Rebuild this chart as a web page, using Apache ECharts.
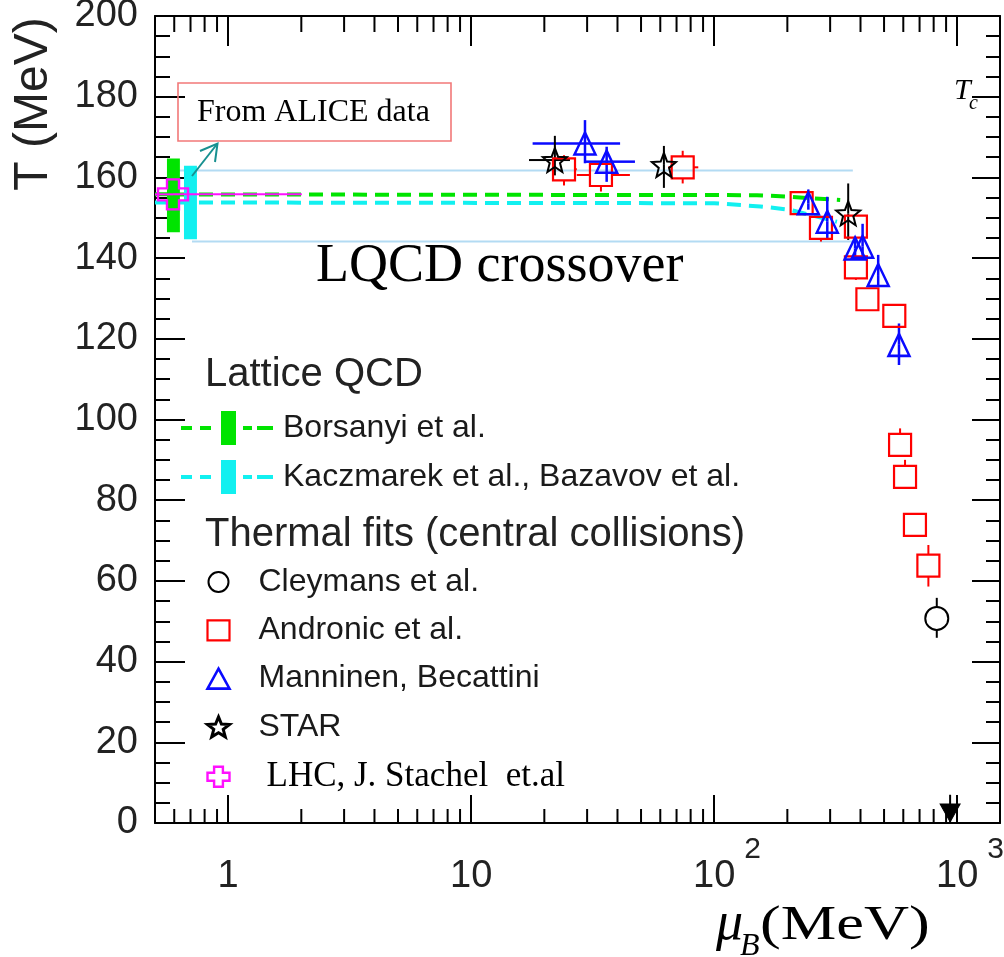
<!DOCTYPE html>
<html>
<head>
<meta charset="utf-8">
<script src="https://cdn.jsdelivr.net/npm/echarts@6/dist/echarts.min.js"></script>
<style>html,body{margin:0;padding:0;background:#fff}#c{width:1004px;height:957px}</style>
</head>
<body>
<div id="c"></div>
<script>
// ---------------- data ----------------
const xMin = 0.5, xMax = 1500;
const xTickValues = [1, 10, 100, 1000];
const xTickBase = ['1', '10', '10', '10'];
const xTickExp = ['', '', '2', '3'];
const xMinorTickValues = [0.6, 0.7, 0.8, 0.9, 2, 3, 4, 5, 6, 7, 8, 9, 20, 30, 40, 50, 60, 70, 80, 90, 200, 300, 400, 500, 600, 700, 800, 900];
const yMin = 0, yMax = 200, yStep = 20;

// Lattice QCD crossover lines
const borsanyiMu = [0.5, 150, 204, 330];
const borsanyiT = [155.8, 155.6, 155.2, 154.4];
const kaczmarekMu = [0.5, 100, 155, 204, 320];
const kaczmarekT = [153.8, 153.6, 152.8, 152.0, 149.0];
// Lattice QCD bands at mu ~ 0  [muLeft, muRight, tLow, tHigh]
const borsanyiBar = [0.560, 0.633, 146.4, 164.7];
const kaczmarekBar = [0.658, 0.744, 144.7, 162.9];
// LQCD crossover band edges
const bandUpperMu = [0.622, 372];
const bandUpperT = [161.7, 161.7];
const bandLowerMu = [0.71, 372];
const bandLowerT = [144.1, 144.1];

// Thermal fits
const cleymansMu = [824];
const cleymansT = [50.7];
const cleymansTLo = [45.9];
const cleymansTHi = [55.8];

const andronicMu = [24.1, 34.2, 74.2, 229, 275, 383, 383, 427, 551, 582, 610, 670, 761];
const andronicT = [162.0, 160.6, 162.5, 153.6, 147.5, 147.8, 137.7, 129.8, 125.7, 93.7, 85.8, 73.9, 63.8];
const andronicTLo = [158.0, 156.5, 158.5, null, 144.1, null, 134.6, null, null, null, null, null, 58.6];
const andronicTHi = [165.5, 163.5, 166.6, null, null, null, null, null, null, 97.8, 90.0, null, 68.9];
const andronicMuLo = [22.0, 27.2, 64.7, null, null, null, null, null, null, null, null, null, null];
const andronicMuHi = [27.2, 45.0, 86.0, null, null, null, null, null, null, null, null, null, null];

const manninenMu = [29.4, 36.1, 244, 292, 380, 408, 473, 576];
const manninenT = [168.4, 163.9, 153.6, 149.0, 142.4, 142.8, 135.8, 118.5];
const manninenTLo = [163.5, 158.9, 152.0, 144.5, 140.0, 140.0, 133.0, 113.5];
const manninenTHi = [174.2, 167.6, 157.0, 155.2, 145.0, 148.5, 140.8, 123.8];
const manninenMuLo = [17.9, 29.4, null, null, null, null, null, null];
const manninenMuHi = [41.0, 47.2, null, null, null, null, null, null];

const starMu = [22.1, 62.1, 356];
const starT = [164.3, 163.1, 151.1];
const starTLo = [160.5, 157.4, 144.5];
const starTHi = [170.3, 167.8, 158.5];
const starMuLo = [17.3, null, null];
const starMuHi = [25.5, null, null];

const lhcMu = [0.593];
const lhcT = [155.8];
const lhcMuLo = [0.5];
const lhcMuHi = [2.01];

const extraMu = [935];
const extraT = [2.5];
const extraTLo = [0];
const extraTHi = [7];

// ---------------- helpers ----------------
function rows(mu, t, muLo, muHi, tLo, tHi) {
  return mu.map((m, i) => [m, t[i],
    muLo ? muLo[i] : null, muHi ? muHi[i] : null,
    tLo ? tLo[i] : null, tHi ? tHi[i] : null]);
}
function pairs(a, b) { return a.map((v, i) => [v, b[i]]); }

function starPath() {
  let p = '';
  for (let i = 0; i < 10; i++) {
    const r = i % 2 === 0 ? 10 : 4.3;
    const a = -Math.PI / 2 + i * Math.PI / 5;
    p += (i === 0 ? 'M' : 'L') + (10 + r * Math.cos(a)).toFixed(2) + ',' + (10 + r * Math.sin(a)).toFixed(2);
  }
  return 'path://' + p + 'Z';
}
const STAR = starPath();
const CROSS = 'path://M6,0H14V6H20V14H14V20H6V14H0V6H6Z';
const LQCD_ICON = 'path://M0,15H11V19H0Z M19,15H30V19H19Z M40,0H55V34H40Z M62,15H71V19H62Z M76,15H92V19H76Z';

const GREEN = '#00e400', CYAN = '#12f0f0', RED = '#ff0000', BLUE = '#0a0aff', BLACK = '#000000', MAGENTA = '#ff10ff';
const TRANSP = 'rgba(0,0,0,0)';

function errSeries(data, color, width, gap) {
  return {
    type: 'custom', silent: true, z: 4, data: data,
    encode: { x: 0, y: 1 },
    renderItem: function (params, api) {
      const mu = api.value(0), t = api.value(1);
      const p = api.coord([mu, t]);
      const ch = [];
      const st = { stroke: color, lineWidth: width };
      const muLo = api.value(2), muHi = api.value(3), tLo = api.value(4), tHi = api.value(5);
      if (isFinite(tHi) && tHi !== null) {
        const q = api.coord([mu, tHi]);
        if (p[1] - q[1] > gap) ch.push({ type: 'line', shape: { x1: p[0], y1: p[1] - gap, x2: q[0], y2: q[1] }, style: st });
      }
      if (isFinite(tLo) && tLo !== null) {
        const q = api.coord([mu, tLo]);
        if (q[1] - p[1] > gap) ch.push({ type: 'line', shape: { x1: p[0], y1: p[1] + gap, x2: q[0], y2: q[1] }, style: st });
      }
      if (isFinite(muLo) && muLo !== null) {
        const q = api.coord([muLo, t]);
        if (p[0] - q[0] > gap) ch.push({ type: 'line', shape: { x1: p[0] - gap, y1: p[1], x2: q[0], y2: q[1] }, style: st });
      }
      if (isFinite(muHi) && muHi !== null) {
        const q = api.coord([muHi, t]);
        if (q[0] - p[0] > gap) ch.push({ type: 'line', shape: { x1: p[0] + gap, y1: p[1], x2: q[0], y2: q[1] }, style: st });
      }
      return { type: 'group', children: ch };
    }
  };
}

function barSeries(bar, color) {
  return {
    type: 'custom', silent: true, z: 3, data: [bar],
    encode: { x: [0, 1], y: [2, 3] },
    renderItem: function (params, api) {
      const a = api.coord([api.value(0), api.value(3)]);
      const b = api.coord([api.value(1), api.value(2)]);
      return { type: 'rect', shape: { x: a[0], y: a[1], width: b[0] - a[0], height: b[1] - a[1] }, style: { fill: color } };
    }
  };
}

function scatterSeries(name, data, symbol, size, color, fill, bw, extra) {
  return Object.assign({
    type: 'scatter', name: name, data: data, symbol: symbol, symbolSize: size, z: 6, silent: true,
    itemStyle: { color: fill, borderColor: color, borderWidth: bw, opacity: 1 }
  }, extra || {});
}

const SANS = '"Liberation Sans", Arial, sans-serif';
const SERIF = '"Liberation Serif", "Times New Roman", serif';

const chart = echarts.init(document.getElementById('c'), null, { renderer: 'canvas' });

const commonX = {
  type: 'log', logBase: 10, min: xMin, max: xMax, splitLine: { show: false },
  axisLine: { show: true, onZero: false, lineStyle: { color: '#000', width: 2 } },
  minorTick: { show: false }, minorSplitLine: { show: false }, axisLabel: { show: false }
};
const commonY = {
  type: 'value', min: yMin, max: yMax, interval: yStep, splitLine: { show: false },
  axisLine: { show: true, onZero: false, lineStyle: { color: '#000', width: 2 } },
  minorSplitLine: { show: false }
};

const option = {
  animation: false,
  backgroundColor: '#ffffff',
  grid: { left: 155, right: 4, top: 16, bottom: 134, containLabel: false, outerBoundsMode: 'none' },
  xAxis: [
    Object.assign({}, commonX, {
      position: 'bottom',
      axisTick: { show: true, inside: true, length: 28, lineStyle: { color: '#000', width: 2 } }
    }),
    Object.assign({}, commonX, {
      position: 'top',
      axisTick: { show: true, inside: true, length: 30, lineStyle: { color: '#000', width: 2 } }
    })
  ],
  yAxis: [
    Object.assign({}, commonY, {
      position: 'left',
      axisTick: { show: true, inside: true, length: 30, lineStyle: { color: '#000', width: 2 } },
      minorTick: { show: true, splitNumber: 4, length: 15, lineStyle: { color: '#000', width: 2 } },
      axisLabel: { show: true, margin: 17, color: '#222', fontFamily: SANS, fontSize: 38 }
    }),
    Object.assign({}, commonY, {
      position: 'right',
      axisTick: { show: true, inside: true, length: 28, lineStyle: { color: '#000', width: 2 } },
      minorTick: { show: true, splitNumber: 4, length: 14, lineStyle: { color: '#000', width: 2 } },
      axisLabel: { show: false }
    })
  ],
  legend: [
    {
      left: 181, top: 411, padding: 0, orient: 'vertical', itemWidth: 92, itemHeight: 34, itemGap: 15,
      symbolKeepAspect: false, selectedMode: false,
      textStyle: { fontFamily: SANS, fontSize: 32, color: '#1a1a1a', lineHeight: 34, padding: [0, 0, 0, 5] },
      data: [
        { name: 'Borsanyi et al.', icon: LQCD_ICON, itemStyle: { color: GREEN, borderWidth: 0 } },
        { name: 'Kaczmarek et al., Bazavov et al.', icon: LQCD_ICON, itemStyle: { color: CYAN, borderWidth: 0 } }
      ]
    },
    {
      left: 206, top: 566, padding: 0, orient: 'vertical', itemWidth: 22, itemHeight: 20, itemGap: 16.3,
      symbolKeepAspect: false, selectedMode: false,
      textStyle: { fontFamily: SANS, fontSize: 32, color: '#1a1a1a', lineHeight: 20, padding: [0, 0, 0, 24] },
      data: [
        { name: 'Cleymans et al.', icon: 'circle', itemStyle: { color: TRANSP, borderColor: BLACK, borderWidth: 2 } },
        { name: 'Andronic et al.', icon: 'rect', itemStyle: { color: TRANSP, borderColor: RED, borderWidth: 2.2 } },
        { name: 'Manninen, Becattini', icon: 'triangle', itemStyle: { color: TRANSP, borderColor: BLUE, borderWidth: 2.6 } },
        { name: 'STAR', icon: STAR, itemStyle: { color: TRANSP, borderColor: BLACK, borderWidth: 3 } },
        { name: 'LHC, J. Stachel  et.al', icon: CROSS, itemStyle: { color: TRANSP, borderColor: MAGENTA, borderWidth: 2.4 },
          textStyle: { fontFamily: SERIF, fontSize: 35, color: '#000', lineHeight: 20, padding: [0, 0, 0, 32] } }
      ]
    }
  ],
  series: [
    // x minor ticks (bottom & top)
    {
      type: 'custom', silent: true, z: 2, xAxisIndex: 0, yAxisIndex: 0,
      data: xMinorTickValues.map(v => [v, yMin]),
      encode: { x: 0, y: 1 },
      renderItem: function (params, api) {
        const v = api.value(0);
        const b = api.coord([v, yMin]);
        const t = api.coord([v, yMax]);
        const st = { stroke: '#000', lineWidth: 2 };
        return { type: 'group', children: [
          { type: 'line', shape: { x1: b[0], y1: b[1], x2: b[0], y2: b[1] - 14 }, style: st },
          { type: 'line', shape: { x1: t[0], y1: t[1], x2: t[0], y2: t[1] + 16 }, style: st }
        ] };
      }
    },
    // x tick labels (powers of ten, with raised exponents)
    {
      type: 'custom', silent: true, clip: false, z: 10, xAxisIndex: 0, yAxisIndex: 0,
      data: xTickValues.map((v, i) => [v, yMin, i]),
      encode: { x: 0, y: 1 },
      renderItem: function (params, api) {
        const i = api.value(2);
        const p = api.coord([api.value(0), yMin]);
        const ch = [{ type: 'text', x: p[0], y: p[1] + 54,
          style: { text: xTickBase[i], fontFamily: SANS, fontSize: 38, fill: '#222', align: 'center', verticalAlign: 'middle' } }];
        if (xTickExp[i]) ch.push({ type: 'text', x: p[0] + 30, y: p[1] + 26.5,
          style: { text: xTickExp[i], fontFamily: SANS, fontSize: 30, fill: '#222', align: 'left', verticalAlign: 'middle' } });
        return { type: 'group', children: ch };
      }
    },
    // crossover band edges
    { type: 'line', name: 'band-upper', data: pairs(bandUpperMu, bandUpperT), showSymbol: false, silent: true, z: 1,
      lineStyle: { color: '#b3dbf3', width: 2 }, itemStyle: { color: '#b3dbf3' } },
    { type: 'line', name: 'band-lower', data: pairs(bandLowerMu, bandLowerT), showSymbol: false, silent: true, z: 1,
      lineStyle: { color: '#b3dbf3', width: 2 }, itemStyle: { color: '#b3dbf3' } },
    // LQCD lines
    { type: 'line', name: 'Borsanyi et al.', data: pairs(borsanyiMu, borsanyiT), showSymbol: false, silent: true, z: 2,
      color: GREEN, lineStyle: { color: GREEN, width: 4, type: [14, 8] }, itemStyle: { color: GREEN } },
    { type: 'line', name: 'Kaczmarek et al., Bazavov et al.', data: pairs(kaczmarekMu, kaczmarekT), showSymbol: false, silent: true, z: 2,
      color: CYAN, lineStyle: { color: CYAN, width: 4, type: [14, 8] }, itemStyle: { color: CYAN } },
    barSeries(borsanyiBar, GREEN),
    barSeries(kaczmarekBar, CYAN),
    // error bars
    errSeries(rows(cleymansMu, cleymansT, null, null, cleymansTLo, cleymansTHi), BLACK, 2, 11),
    errSeries(rows(andronicMu, andronicT, andronicMuLo, andronicMuHi, andronicTLo, andronicTHi), RED, 2, 11),
    errSeries(rows(manninenMu, manninenT, manninenMuLo, manninenMuHi, manninenTLo, manninenTHi), BLUE, 2.5, 0),
    errSeries(rows(starMu, starT, starMuLo, starMuHi, starTLo, starTHi), BLACK, 2, 0),
    errSeries(rows(lhcMu, lhcT, lhcMuLo, lhcMuHi, null, null), MAGENTA, 2, 0),
    errSeries(rows(extraMu, extraT, null, null, extraTLo, extraTHi), BLACK, 2, 0),
    // markers
    scatterSeries('Cleymans et al.', pairs(cleymansMu, cleymansT), 'circle', 23, BLACK, TRANSP, 2),
    scatterSeries('Andronic et al.', pairs(andronicMu, andronicT), 'rect', 22, RED, TRANSP, 2.2),
    scatterSeries('Manninen, Becattini', pairs(manninenMu, manninenT), 'triangle', [21, 22], BLUE, TRANSP, 2.5),
    scatterSeries('STAR', pairs(starMu, starT), STAR, 24, BLACK, TRANSP, 2),
    scatterSeries('LHC, J. Stachel  et.al', pairs(lhcMu, lhcT), CROSS, 30, MAGENTA, TRANSP, 2.4),
    scatterSeries('extra', pairs(extraMu, extraT), 'triangle', [20, 18], BLACK, BLACK, 1, { symbolRotate: 180 })
  ],
  graphic: [
    { type: 'rect', shape: { x: 178, y: 83, width: 273, height: 58 }, style: { fill: 'none', stroke: '#f27878', lineWidth: 1.6 }, z: 10 },
    { type: 'text', x: 197, y: 113, z: 10, style: { text: 'From ALICE data', fontFamily: SERIF, fontSize: 32, fill: '#000', align: 'left', verticalAlign: 'middle' } },
    { type: 'polyline', z: 10, shape: { points: [[192, 176], [217.5, 143.5]] }, style: { stroke: '#179090', lineWidth: 2, fill: 'none' } },
    { type: 'polyline', z: 10, shape: { points: [[200, 151], [217.5, 143.5], [215, 162]] }, style: { stroke: '#179090', lineWidth: 2, fill: 'none' } },
    { type: 'text', x: 316, y: 267, z: 10, style: { text: 'LQCD crossover', fontFamily: SERIF, fontSize: 54, fill: '#000', align: 'left', verticalAlign: 'middle' } },
    { type: 'text', x: 954, y: 91.5, z: 10, style: { text: 'T', fontFamily: SERIF, fontStyle: 'italic', fontSize: 30, fill: '#000', align: 'left', verticalAlign: 'middle' } },
    { type: 'text', x: 969, y: 103.5, z: 10, style: { text: 'c', fontFamily: SERIF, fontStyle: 'italic', fontSize: 20, fill: '#000', align: 'left', verticalAlign: 'middle' } },
    { type: 'text', x: 34, y: 104, rotation: Math.PI / 2, z: 10, style: { text: 'T (MeV)', fontFamily: SANS, fontSize: 48, fill: '#222', align: 'center', verticalAlign: 'middle' } },
    { type: 'text', x: 716, y: 925, z: 10, style: { text: 'μ', fontFamily: SERIF, fontStyle: 'italic', fontSize: 54, fill: '#000', align: 'left', verticalAlign: 'middle' } },
    { type: 'text', x: 740, y: 947, z: 10, style: { text: 'B', fontFamily: SERIF, fontStyle: 'italic', fontSize: 32, fill: '#000', align: 'left', verticalAlign: 'middle' } },
    { type: 'text', x: 760, y: 926.5, scaleX: 1.3, z: 10, style: { text: '(MeV)', fontFamily: SERIF, fontSize: 48, fill: '#000', align: 'left', verticalAlign: 'middle' } },
    { type: 'text', x: 205, y: 374.5, z: 10, style: { text: 'Lattice QCD', fontFamily: SANS, fontSize: 40, fill: '#222', align: 'left', verticalAlign: 'middle' } },
    { type: 'text', x: 205, y: 535, z: 10, style: { text: 'Thermal fits (central collisions)', fontFamily: SANS, fontSize: 40, fill: '#222', align: 'left', verticalAlign: 'middle' } }
  ]
};
chart.setOption(option);
</script>
</body>
</html>
